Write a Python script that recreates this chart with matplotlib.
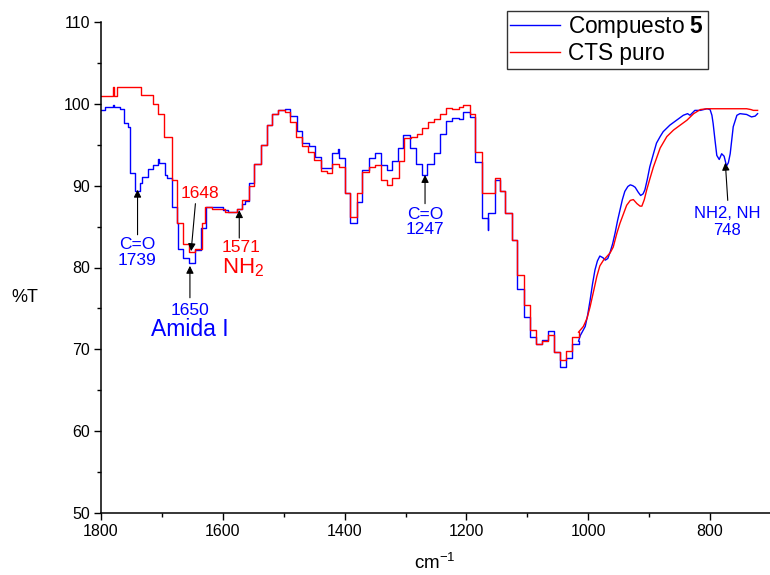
import matplotlib
matplotlib.use("Agg")
import matplotlib.pyplot as plt
from matplotlib.ticker import MultipleLocator

plt.rcParams['font.family'] = ['Liberation Sans', 'DejaVu Sans']
plt.rcParams['mathtext.fontset'] = 'custom'
plt.rcParams['mathtext.rm'] = 'Liberation Sans'
plt.rcParams['mathtext.it'] = 'Liberation Sans:italic'
plt.rcParams['mathtext.bf'] = 'Liberation Sans:bold'

# --- FTIR spectra (wavenumber in cm-1, transmittance in %) ---
# Stepped (low resolution) part of each spectrum, 1800-1016 cm-1
cts_step_x = [1800, 1781, 1779, 1774, 1735, 1714, 1706, 1696, 1684, 1676, 1666, 1656, 1646, 1635,
              1630, 1618, 1596, 1577, 1569, 1557, 1548, 1537, 1528, 1519, 1509, 1498, 1490, 1480,
              1470, 1460, 1450, 1439, 1429, 1420, 1410, 1400, 1391, 1380, 1371, 1360, 1350, 1340,
              1331, 1322, 1311, 1302, 1291, 1282, 1273, 1263, 1253, 1243, 1234, 1223, 1213, 1205,
              1194, 1186, 1174, 1153, 1145, 1137, 1126, 1117, 1105, 1096, 1086, 1076, 1066, 1056,
              1046, 1036, 1027, 1016]
cts_step_t = [101.0, 102.1, 101.0, 102.1, 101.1, 100.0, 98.8, 96.0, 90.7, 85.4, 82.9, 81.9, 82.3, 85.4,
              87.4, 87.2, 86.8, 87.2, 88.3, 89.9, 92.7, 95.0, 97.4, 98.8, 99.2, 99.0, 97.8, 95.9,
              94.8, 94.1, 93.1, 91.8, 91.6, 92.7, 92.3, 89.1, 86.2, 89.1, 91.7, 92.3, 92.5, 90.7,
              90.1, 90.9, 93.0, 95.8, 96.0, 96.3, 97.0, 97.8, 98.2, 98.8, 99.5, 99.4, 99.6, 99.9,
              98.7, 94.1, 89.1, 90.9, 89.3, 86.6, 83.4, 79.1, 75.4, 72.4, 70.7, 71.0, 71.8, 69.7,
              68.7, 69.8, 71.5, 72.1]

comp_step_x = [1800, 1793, 1781, 1779, 1769, 1762, 1755, 1753, 1744, 1736, 1733, 1723, 1714, 1706,
               1705, 1695, 1692, 1683, 1676, 1674, 1666, 1656, 1646, 1636, 1627, 1616, 1600, 1591,
               1577, 1569, 1563, 1557, 1548, 1537, 1528, 1519, 1509, 1498, 1490, 1479, 1470, 1458,
               1449, 1439, 1420, 1411, 1410, 1400, 1391, 1380, 1371, 1360, 1350, 1340, 1331, 1322,
               1312, 1304, 1293, 1283, 1273, 1264, 1254, 1243, 1234, 1223, 1213, 1205, 1194, 1186,
               1174, 1165, 1164, 1153, 1145, 1137, 1126, 1117, 1105, 1096, 1086, 1076, 1066, 1056,
               1046, 1036, 1027, 1016]
comp_step_t = [99.3, 99.6, 99.9, 99.6, 99.4, 97.6, 97.2, 91.5, 89.3, 90.3, 91.1, 92.0, 92.5, 93.2,
               92.8, 91.3, 90.9, 87.4, 85.4, 82.3, 81.1, 80.5, 82.1, 84.8, 87.4, 87.4, 87.0, 86.8,
               87.2, 87.8, 88.1, 90.3, 92.7, 95.0, 97.4, 98.8, 99.2, 99.4, 98.5, 96.7, 95.2, 94.8,
               93.5, 92.1, 94.0, 94.5, 93.4, 89.1, 85.4, 88.0, 91.9, 93.4, 94.0, 92.5, 91.9, 93.0,
               94.6, 96.2, 94.6, 92.7, 91.3, 92.7, 94.0, 96.3, 97.9, 98.3, 98.2, 99.0, 98.4, 92.9,
               86.0, 84.6, 86.6, 90.7, 89.3, 86.6, 83.4, 77.4, 74.0, 71.5, 70.7, 71.1, 72.3, 69.7,
               67.9, 68.9, 70.7, 71.0]

# Continuous part of each spectrum, 1016-722 cm-1
cts_cont_x = [1016, 1008, 1002, 997, 991, 986, 981, 975, 970, 964, 959, 953, 948, 942, 937, 931,
              926, 920, 915, 912, 908, 904, 899, 893, 882, 871, 860, 849, 838, 827, 816, 805,
              790, 770, 750, 740, 733, 729, 722]
cts_cont_t = [72.1, 72.8, 73.8, 75.2, 77.2, 78.9, 80.2, 80.9, 81.3, 81.8, 82.5, 84.2, 85.4, 86.6,
              87.6, 88.2, 88.3, 87.8, 87.5, 87.5, 88.3, 89.5, 90.8, 92.3, 94.6, 96.0, 96.8, 97.4,
              98.0, 98.8, 99.3, 99.4, 99.4, 99.4, 99.4, 99.4, 99.3, 99.2, 99.2]

comp_cont_x = [1016, 1013, 1005, 1001, 997, 993, 989, 985, 981, 976, 972, 968, 964, 960, 956, 952,
               948, 944, 940, 935, 931, 927, 923, 918, 914, 910, 907, 903, 899, 893, 888, 882,
               877, 866, 855, 844, 837, 833, 825, 816, 805, 800, 797, 795, 792, 789, 785, 781,
               777, 773, 770, 767, 762, 756, 751, 740, 732, 726, 722]
comp_cont_t = [71.0, 71.7, 72.8, 74.2, 76.0, 78.0, 79.7, 80.8, 81.4, 81.2, 80.9, 81.1, 81.9, 82.9,
               84.2, 85.7, 87.0, 88.3, 89.3, 89.9, 90.1, 90.0, 89.8, 89.2, 88.8, 89.0, 89.5, 90.8,
               92.3, 93.9, 95.2, 96.0, 96.6, 97.4, 98.0, 98.6, 98.8, 98.6, 99.2, 99.2, 99.4, 99.3,
               98.6, 97.6, 95.6, 93.7, 93.2, 93.9, 93.6, 92.4, 92.8, 93.9, 97.2, 98.6, 98.8, 98.7,
               98.4, 98.5, 98.8]

x_ticks = [1800, 1600, 1400, 1200, 1000, 800]
y_ticks = [50, 60, 70, 80, 90, 100, 110]

BLUE = '#0000FF'
RED = '#FF0000'

fig = plt.figure(figsize=(7.7, 5.75), dpi=100)
ax = fig.add_axes([101 / 770, 1 - 513 / 575, 670 / 770, (513 - 22) / 575])

lw = 1.0
ax.plot(comp_step_x, comp_step_t, drawstyle='steps-post', color=BLUE, lw=lw,
        label=r'Compuesto $\mathbf{5}$')
ax.plot(comp_cont_x, comp_cont_t, color=BLUE, lw=lw)
ax.plot(cts_step_x, cts_step_t, drawstyle='steps-post', color=RED, lw=lw, label='CTS puro')
ax.plot(cts_cont_x, cts_cont_t, color=RED, lw=lw)

ax.set_xlim(1800, 700)
ax.set_ylim(50, 110)
ax.set_xticks(x_ticks)
ax.set_yticks(y_ticks)
ax.xaxis.set_minor_locator(MultipleLocator(100))
ax.yaxis.set_minor_locator(MultipleLocator(5))
ax.tick_params(which='major', direction='out', length=5, width=1, labelsize=11.5, pad=3)
ax.tick_params(which='minor', direction='out', length=3, width=1)
for side in ('top', 'right'):
    ax.spines[side].set_visible(False)
for side in ('left', 'bottom'):
    ax.spines[side].set_linewidth(1.1)

fig.text(25 / 770, 1 - 297 / 575, '%T', ha='center', va='center', fontsize=13)
fig.text(435 / 770, 1 - 563 / 575, r'cm$^{-1}$', ha='center', va='center', fontsize=13.5)

leg = ax.legend(loc='upper left', bbox_to_anchor=(507 / 770, 1 - 11 / 575),
                bbox_transform=fig.transFigure, borderaxespad=0, fontsize=16.3,
                frameon=True, fancybox=False, shadow=False, handlelength=2.2,
                handletextpad=0.35, labelspacing=0.08, borderpad=0.15)
leg.get_frame().set_edgecolor('black')
leg.get_frame().set_linewidth(1.0)

arrow = dict(arrowstyle='-|>', color='black', lw=0.8, mutation_scale=11, shrinkA=0, shrinkB=0)

# peak annotations
ax.annotate('', xy=(1740, 89.5), xytext=(1740, 84.0), arrowprops=arrow)
ax.text(1741, 81.8, 'C=O\n1739', color=BLUE, ha='center', va='center', fontsize=12.5,
        linespacing=1.05)

ax.annotate('', xy=(1652, 82.0), xytext=(1645, 87.8), arrowprops=arrow)
ax.text(1637, 89.1, '1648', color=RED, ha='center', va='center', fontsize=12.5)

ax.annotate('', xy=(1654, 80.2), xytext=(1654, 76.3), arrowprops=arrow)
ax.text(1654, 74.7, '1650', color=BLUE, ha='center', va='center', fontsize=12.5)
ax.text(1654, 72.4, 'Amida I', color=BLUE, ha='center', va='center', fontsize=16.5)

ax.annotate('', xy=(1573, 87.0), xytext=(1573, 83.6), arrowprops=arrow)
ax.text(1570, 82.4, '1571', color=RED, ha='center', va='center', fontsize=12.5)
ax.text(1566, 80.0, r'NH$_2$', color=RED, ha='center', va='center', fontsize=16)

ax.annotate('', xy=(1268, 91.3), xytext=(1268, 87.8), arrowprops=arrow)
ax.text(1268, 85.55, 'C=O\n1247', color=BLUE, ha='center', va='center', fontsize=12.5,
        linespacing=1.05)

ax.annotate('', xy=(775, 92.8), xytext=(771, 88.2), arrowprops=arrow)
ax.text(772, 85.55, 'NH2, NH\n748', color=BLUE, ha='center', va='center', fontsize=12,
        linespacing=1.1)

fig.savefig('out.png', dpi=100)
